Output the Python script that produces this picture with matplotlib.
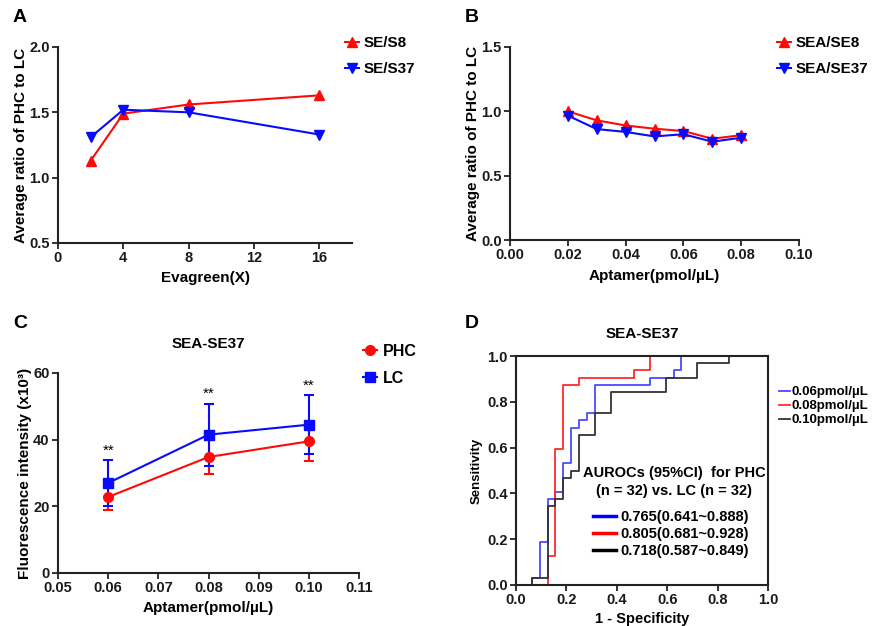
import matplotlib
matplotlib.use("Agg")
import matplotlib.pyplot as plt
from matplotlib.lines import Line2D

plt.rcParams['font.family'] = ['Liberation Sans', 'DejaVu Sans']
plt.rcParams['font.weight'] = 'bold'
plt.rcParams['axes.linewidth'] = 1.5
plt.rcParams['xtick.major.width'] = 1.3
plt.rcParams['ytick.major.width'] = 1.3
plt.rcParams['xtick.major.size'] = 4
plt.rcParams['ytick.major.size'] = 4

# ---------------- data ----------------
# Panel A
evagreen = [2, 4, 8, 16]
se_s8 = [1.13, 1.49, 1.56, 1.63]
se_s37 = [1.31, 1.52, 1.50, 1.33]

# Panel B
aptamer_b = [0.02, 0.03, 0.04, 0.05, 0.06, 0.07, 0.08]
sea_se8 = [1.00, 0.93, 0.89, 0.865, 0.847, 0.787, 0.815]
sea_se37 = [0.967, 0.862, 0.840, 0.805, 0.822, 0.764, 0.795]

# Panel C
aptamer_c = [0.06, 0.08, 0.10]
phc_mean = [22.8, 34.8, 39.5]
phc_sd = [3.8, 5.1, 6.0]
lc_mean = [27.0, 41.5, 44.5]
lc_sd = [6.8, 9.3, 8.8]
sig = ["**", "**", "**"]

# Panel D (ROC, step vertices: fpr where the rise happens, tpr after rise)
roc_006_fpr = [0, 0.0625, 0.094, 0.125, 0.156, 0.1875, 0.219, 0.25, 0.281, 0.3125, 0.531, 0.625, 0.656, 1.0]
roc_006_tpr = [0, 0.031, 0.1875, 0.375, 0.406, 0.531, 0.6875, 0.719, 0.75, 0.875, 0.906, 0.9375, 1.0, 1.0]
roc_008_fpr = [0, 0.125, 0.156, 0.1875, 0.25, 0.469, 0.531, 1.0]
roc_008_tpr = [0, 0.125, 0.594, 0.875, 0.906, 0.9375, 1.0, 1.0]
roc_010_fpr = [0, 0.0625, 0.125, 0.156, 0.1875, 0.219, 0.25, 0.3125, 0.375, 0.594, 0.719, 0.844, 1.0]
roc_010_tpr = [0, 0.031, 0.344, 0.375, 0.469, 0.5, 0.656, 0.75, 0.844, 0.906, 0.969, 1.0, 1.0]
roc_labels = ["0.06pmol/µL", "0.08pmol/µL", "0.10pmol/µL"]
auc_labels = ["0.765(0.641~0.888)", "0.805(0.681~0.928)", "0.718(0.587~0.849)"]

RED = "#ff0a0a"
BLUE = "#0a0aff"
AX = "#222222"
TICK_FS = 10.5
LAB_FS = 11

W, H = 874, 626
fig = plt.figure(figsize=(W / 100, H / 100), dpi=100)


def ax_px(l, t, r, b):
    return fig.add_axes([l / W, 1 - b / H, (r - l) / W, (b - t) / H])


def fx(px):
    return px / W


def fy(py):
    return 1 - py / H


def style(ax):
    for s in ['top', 'right']:
        ax.spines[s].set_visible(False)
    for s in ['left', 'bottom']:
        ax.spines[s].set_color(AX)
    ax.tick_params(colors=AX, labelsize=TICK_FS, direction='out', pad=2)
    for lab in ax.get_xticklabels() + ax.get_yticklabels():
        lab.set_fontweight('bold')
        lab.set_color('#1a1a1a')


def top_legend(ax, handles, labels, x, ytop, fs=11, **kw):
    opts = dict(loc='upper left', bbox_to_anchor=(fx(x), fy(ytop)), bbox_transform=fig.transFigure,
                frameon=False, handlelength=0.9, handletextpad=0.35, labelspacing=0.8,
                borderpad=0, borderaxespad=0, prop={'weight': 'bold', 'size': fs})
    opts.update(kw)
    return ax.legend(handles, labels, **opts)


# ---------------- Panel A ----------------
axA = ax_px(58, 47, 352, 243)
la1, = axA.plot(evagreen, se_s8, color=RED, marker='^', ms=6.5, lw=1.5)
la2, = axA.plot(evagreen, se_s37, color=BLUE, marker='v', ms=6.5, lw=1.5)
axA.set_xlim(0, 18)
axA.set_ylim(0.5, 2.0)
axA.set_xticks([0, 4, 8, 12, 16])
axA.set_yticks([0.5, 1.0, 1.5, 2.0])
axA.set_yticklabels(['0.5', '1.0', '1.5', '2.0'])
style(axA)
axA.set_xlabel('Evagreen(X)', fontsize=LAB_FS, fontweight='bold', labelpad=4)
axA.set_ylabel('Average ratio of PHC to LC', fontsize=LAB_FS, fontweight='bold', labelpad=0.5)
top_legend(axA, [la1, la2], ['SE/S8', 'SE/S37'], 345, 36)
fig.text(fx(13), fy(17), 'A', fontsize=14, fontweight='bold', va='center', ha='left')

# ---------------- Panel B ----------------
axB = ax_px(510, 47, 799, 240)
lb1, = axB.plot(aptamer_b, sea_se8, color=RED, marker='^', ms=6.5, lw=1.5)
lb2, = axB.plot(aptamer_b, sea_se37, color=BLUE, marker='v', ms=6.5, lw=1.5)
axB.set_xlim(0, 0.10)
axB.set_ylim(0, 1.5)
axB.set_xticks([0, 0.02, 0.04, 0.06, 0.08, 0.10])
axB.set_xticklabels(['0.00', '0.02', '0.04', '0.06', '0.08', '0.10'])
axB.set_yticks([0, 0.5, 1.0, 1.5])
axB.set_yticklabels(['0.0', '0.5', '1.0', '1.5'])
style(axB)
axB.set_xlabel('Aptamer(pmol/µL)', fontsize=LAB_FS, fontweight='bold', labelpad=5)
axB.set_ylabel('Average ratio of PHC to LC', fontsize=LAB_FS, fontweight='bold', labelpad=1)
top_legend(axB, [lb1, lb2], ['SEA/SE8', 'SEA/SE37'], 777, 36)
fig.text(fx(465), fy(17), 'B', fontsize=14, fontweight='bold', va='center', ha='left')

# ---------------- Panel C ----------------
axC = ax_px(58, 373, 359, 573)
axC.errorbar(aptamer_c, phc_mean, yerr=phc_sd, color=RED, marker='o', ms=7, lw=1.5,
             capsize=3.6, capthick=1.5, elinewidth=1.5)
axC.errorbar(aptamer_c, lc_mean, yerr=lc_sd, color=BLUE, marker='s', ms=6.5, lw=1.5,
             capsize=3.6, capthick=1.5, elinewidth=1.5)
for x, m, s, t in zip(aptamer_c, lc_mean, lc_sd, sig):
    axC.text(x, m + s + 0.8, t, ha='center', va='bottom', fontsize=11, fontweight='normal')
axC.set_xlim(0.05, 0.11)
axC.set_ylim(0, 60)
axC.set_xticks([0.05, 0.06, 0.07, 0.08, 0.09, 0.10, 0.11])
axC.set_xticklabels(['0.05', '0.06', '0.07', '0.08', '0.09', '0.10', '0.11'])
axC.set_yticks([0, 20, 40, 60])
style(axC)
axC.set_xlabel('Aptamer(pmol/µL)', fontsize=LAB_FS, fontweight='bold', labelpad=4)
axC.set_ylabel('Fluorescence intensity (x10³)', fontsize=LAB_FS, fontweight='bold', labelpad=0.5)
axC.set_title('SEA-SE37', fontsize=11, fontweight='bold', pad=18)
hc = [Line2D([0], [0], color=RED, marker='o', ms=7, lw=1.5),
      Line2D([0], [0], color=BLUE, marker='s', ms=6.5, lw=1.5)]
top_legend(axC, hc, ['PHC', 'LC'], 363, 344, fs=11.5, labelspacing=0.75)
fig.text(fx(13), fy(323), 'C', fontsize=14, fontweight='bold', va='center', ha='left')

# ---------------- Panel D ----------------
axD = ax_px(516, 356, 768, 585)
c06, c08, c10 = "#4a4aff", "#ff2a2a", "#333333"
ld1, = axD.plot(roc_006_fpr, roc_006_tpr, drawstyle='steps-post', color=c06, lw=1.3)
ld2, = axD.plot(roc_008_fpr, roc_008_tpr, drawstyle='steps-post', color=c08, lw=1.3)
ld3, = axD.plot(roc_010_fpr, roc_010_tpr, drawstyle='steps-post', color=c10, lw=1.3)
axD.set_xlim(0, 1)
axD.set_ylim(0, 1)
axD.set_xticks([0, 0.2, 0.4, 0.6, 0.8, 1.0])
axD.set_yticks([0, 0.2, 0.4, 0.6, 0.8, 1.0])
axD.set_xticklabels(['0.0', '0.2', '0.4', '0.6', '0.8', '1.0'])
axD.set_yticklabels(['0.0', '0.2', '0.4', '0.6', '0.8', '1.0'])
for s in axD.spines.values():
    s.set_color(AX)
axD.tick_params(colors=AX, labelsize=TICK_FS, direction='out', pad=2)
for lab in axD.get_xticklabels() + axD.get_yticklabels():
    lab.set_fontweight('bold')
    lab.set_color('#1a1a1a')
axD.set_xlabel('1 - Specificity', fontsize=10.5, fontweight='bold', labelpad=3)
axD.set_ylabel('Sensitivity', fontsize=9.5, fontweight='bold', labelpad=3)
axD.set_title('SEA-SE37', fontsize=11, fontweight='bold', pad=13)
leg1 = top_legend(axD, [ld1, ld2, ld3], roc_labels, 779, 386, fs=9.5,
                  handlelength=0.85, handletextpad=0.1, labelspacing=0.13)
axD.add_artist(leg1)
fig.text(fx(674), fy(482), 'AUROCs (95%CI)  for PHC\n(n = 32) vs. LC (n = 32)',
         ha='center', va='center', fontsize=10.5, fontweight='bold', linespacing=1.3)
proxies = [Line2D([0], [0], color=c, lw=2.5) for c in ["#0000ff", "#ff0000", "#000000"]]
top_legend(axD, proxies, auc_labels, 593, 510, fs=10.5,
           handlelength=1.55, handletextpad=0.35, labelspacing=0.22)
fig.text(fx(465), fy(323), 'D', fontsize=14, fontweight='bold', va='center', ha='left')

fig.savefig('out.png', dpi=100)
